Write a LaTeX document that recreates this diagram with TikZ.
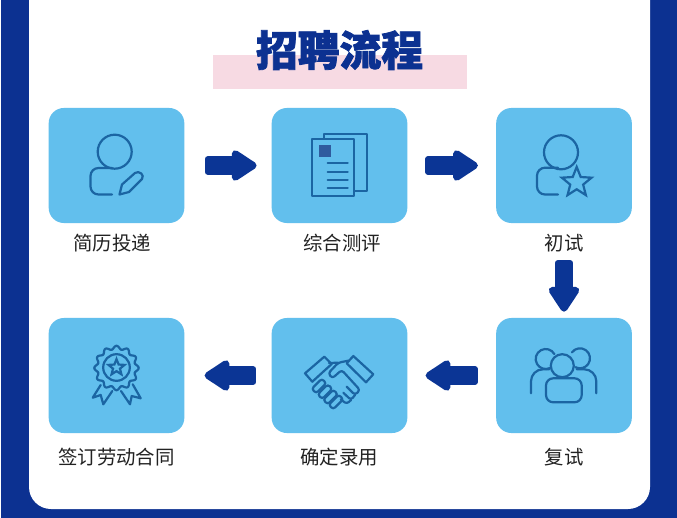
\documentclass[tikz,border=0pt]{standalone}
\usepackage{fontspec}
\usepackage{tikz}
\usetikzlibrary{arrows.meta,shapes.geometric}
\newfontfamily\cjkfont{Noto Sans CJK SC}
\newfontfamily\cjkheavy[UprightFont={* Black},FakeBold=1.8]{Noto Sans CJK SC}
\definecolor{PanelBlue}{HTML}{0C3191}
\definecolor{ArrowBlue}{HTML}{0B3595}
\definecolor{BoxBlue}{HTML}{62BFED}
\definecolor{IconBlue}{HTML}{1B65A3}
\definecolor{SquareBlue}{HTML}{2F5B9E}
\definecolor{TitlePink}{HTML}{F7DAE3}
\definecolor{LabelInk}{HTML}{222222}

\begin{document}
\begin{tikzpicture}[
    x=0.025cm, y=-0.025cm,
    stagebox/.style={rectangle, fill=BoxBlue, rounded corners=0.38cm, minimum width=3.39cm, minimum height=2.875cm},
    stagetext/.style={font=\cjkfont\fontsize{13.8pt}{15pt}\selectfont, text=LabelInk, inner sep=0pt},
    flowarrow/.style={draw=ArrowBlue, fill=ArrowBlue, line width=0.45cm,
        {Square[length=0.3cm,width=0.46cm,line width=0.24cm,round,fill=ArrowBlue]}-{Triangle[length=0.7cm,width=0.86cm,line width=0.32cm,round,fill=ArrowBlue]}},
    iconline/.style={draw=IconBlue, line width=0.055cm, line cap=round, line join=round},
    starmark/.style={star, star points=5, star point ratio=2.3, draw=IconBlue, line width=0.055cm, inner sep=0pt},
    fingercap/.style={rectangle, draw=IconBlue, line width=0.055cm, rounded corners=0.07cm, minimum width=0.36cm, minimum height=0.16cm, inner sep=0pt, rotate=45}
]
    \fill[white] (0,0) rectangle (677,518);
    \fill[PanelBlue] (1,0) rectangle (677,518);
    \fill[white, rounded corners=0.55cm] (29,0) -- (29,509) -- (650,509) -- (650,0);

    \fill[TitlePink] (213,55) rectangle (467,89);
    \node[font=\cjkheavy\fontsize{29.7pt}{32pt}\selectfont, text=PanelBlue, inner sep=0pt] (title) at (339.5,50) {招聘流程};

    \node[stagebox] (resume) at (116.5,165.5) {};
    \node[stagebox] (assess) at (339.5,165.5) {};
    \node[stagebox] (first) at (564,165.5) {};
    \node[stagebox] (second) at (564,375.5) {};
    \node[stagebox] (offer) at (339.5,375.5) {};
    \node[stagebox] (sign) at (116.5,375.5) {};

    \node[stagetext] (resumetext) at (112,243) {简历投递};
    \node[stagetext] (assesstext) at (342,243) {综合测评};
    \node[stagetext] (firsttext) at (564,243) {初试};
    \node[stagetext] (secondtext) at (564,457) {复试};
    \node[stagetext] (offertext) at (339,457) {确定录用};
    \node[stagetext] (signtext) at (116.5,457) {签订劳动合同};

    \draw[flowarrow, shorten <=0.5cm, shorten >=0.37cm] (resume) -- (assess);
    \draw[flowarrow, shorten <=0.44cm, shorten >=0.45cm] (assess) -- (first);
    \draw[flowarrow, shorten <=0.92cm, shorten >=0.15cm] (first) -- (second);
    \draw[flowarrow, shorten <=0.45cm, shorten >=0.45cm] (second) -- (offer);
    \draw[flowarrow, shorten <=0.375cm, shorten >=0.5cm] (offer) -- (sign);

    \draw[iconline] (114.7,151.7) circle[radius=17];
    \draw[iconline, rounded corners=0.2cm] (112,168) -- (90.5,168) -- (90.5,194.5) -- (112,194.5);
    \draw[iconline] (119.5,194.5) -- (122,184.5) -- (135,173) .. controls (139,170) and (145,175) .. (142,179) -- (129,192) -- cycle;

    \draw[iconline] (324,138.3) -- (324,134.3) -- (366.7,134.3) -- (366.7,191) -- (355,191);
    \draw[iconline] (312.3,139) rectangle (354.3,196);
    \fill[SquareBlue] (319,145) rectangle (331,157.3);
    \foreach \rowy in {163.3,171.7,180,188}
        \draw[iconline] (327.7,\rowy) -- (347.7,\rowy);

    \draw[iconline] (561,152.3) circle[radius=17];
    \draw[iconline, rounded corners=0.2cm] (558,167.7) -- (537,167.7) -- (537,194.5) -- (558,194.5);
    \node[starmark, minimum size=0.78cm] (firststar) at (576.7,182.5) {};

    \draw[iconline, rounded corners=0.3cm] (531,393.3) -- (531,369.3) -- (549.3,369.3);
    \draw[iconline, rounded corners=0.3cm] (596.3,393.3) -- (596.3,369.3) -- (576.7,369.3);
    \draw[iconline] (545.7,359) ++(-29:10) arc[start angle=-29, end angle=-295, radius=10];
    \draw[iconline] (580,358.3) ++(216:10) arc[start angle=216, end angle=477, radius=10];
    \draw[iconline] (562.3,365.7) circle[radius=11.5];
    \draw[iconline, rounded corners=0.18cm] (546,402.3) -- (546,378.3) -- (581.7,378.3) -- (581.7,402.3) -- cycle;

    \draw[iconline] (305,373.3) -- (324.3,356.7) -- (331.7,364) -- (312.3,381.7) -- cycle;
    \draw[iconline] (353.3,356) -- (373.3,374.3) -- (366,382.3) -- (346.7,363.3) -- cycle;
    \draw[iconline, rounded corners=0.07cm] (348.3,360.7) -- (338.3,362.7) -- (328.3,373.3) -- (332.3,378.3) -- (341.7,370) -- (360,390) -- (355,395) -- (346.7,386.7);
    \draw[iconline, rounded corners=0.07cm] (355,395) -- (351,400) -- (343.3,392.7);
    \draw[iconline, rounded corners=0.07cm] (351,400) -- (346.7,404) -- (340.7,399.3);
    \draw[iconline] (329,363) -- (338.3,362.7);
    \foreach \capx/\capy in {319/386,325/391.7,330.5/397,336/402}
        \node[fingercap] at (\capx,\capy) {};

    \draw[iconline] plot[domain=0:360, samples=145, smooth] ({116.5+(20.5+1.7*cos(12*\x))*cos(\x)},{368+(20.5+1.7*cos(12*\x))*sin(\x)});
    \draw[iconline] (116.5,367.5) circle[radius=13.3];
    \node[starmark, minimum size=0.42cm] (signstar) at (116.5,367.5) {};
    \draw[iconline] (100.7,385) -- (92.7,397.7) -- (100.7,395) -- (103.3,404.3) -- (112.3,391);
    \draw[iconline] (132.7,384.3) -- (140.7,398.3) -- (131.7,396) -- (130,404.3) -- (121,391);

    \useasboundingbox (0,0) rectangle (677,518);
\end{tikzpicture}
\end{document}
